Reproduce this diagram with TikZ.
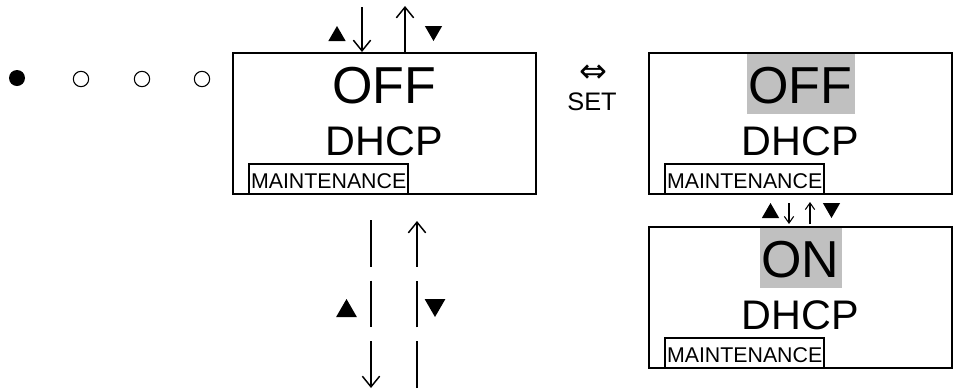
\documentclass[tikz,border=0pt]{standalone}
\usepackage{fontspec}
\setmainfont{Liberation Sans}
\newfontfamily\dejavu{DejaVu Sans}
\usetikzlibrary{arrows.meta,shapes.geometric}
\definecolor{hlgray}{RGB}{192,192,192}

\begin{document}
\begin{tikzpicture}[x=0.75pt, y=-0.75pt,
  panel/.style={draw, line width=1.5pt, minimum width=227.25pt, minimum height=105.75pt, inner sep=0pt},
  val/.style={anchor=base, font=\fontsize{39}{39}\selectfont, inner xsep=1.5pt, inner ysep=0pt, text height=37pt, text depth=8.2pt},
  hl/.style={val, fill=hlgray},
  dhcp/.style={anchor=base, font=\fontsize{31}{31}\selectfont, inner sep=0pt},
  mnt/.style={draw, line width=1.5pt, anchor=base west, font=\fontsize{16}{16}\selectfont, inner xsep=1.5pt, inner ysep=0pt, text height=18pt, text depth=4.5pt},
  odot/.style={circle, draw, line width=0.8pt, minimum size=11.5pt, inner sep=0pt},
  tri/.style={regular polygon, regular polygon sides=3, fill, inner sep=0pt, minimum size=#1},
  tri/.default=15pt,
  arr/.style={-{Straight Barb[length=8pt,width=13pt]}, line width=1.1pt},
  sarr/.style={-{Straight Barb[length=5pt,width=7pt]}, line width=0.8pt}]
  \useasboundingbox (0,0) rectangle (959,390);
  % position dots
  \node[circle, fill, minimum size=12pt, inner sep=0pt] (d0) at (17,78) {};
  \foreach \i/\x in {1/81,2/142,3/202}
    \node[odot] (d\i) at (\x,79) {};
  % displays
  \node[panel] (b1) at (384.5,123.5) {};
  \node[panel] (b2) at (800.5,123.5) {};
  \node[panel] (b3) at (800.5,297.5) {};
  \node[val] (v1) at (384.5,103) {OFF};
  \node[dhcp] (h1) at (384.5,155) {DHCP};
  \node[mnt] (m1) at (248,188) {MAINTENANCE};
  \node[hl] (v2) at (800.5,103) {OFF};
  \node[dhcp] (h2) at (800.5,155) {DHCP};
  \node[mnt] (m2) at (664,188) {MAINTENANCE};
  \node[hl] (v3) at (800.5,277) {ON};
  \node[dhcp] (h3) at (800.5,329) {DHCP};
  \node[mnt] (m3) at (664,362) {MAINTENANCE};
  % keys above the first display
  \node[tri] (tu1) at (337,36) {};
  \node[tri, shape border rotate=180] (td1) at (433.5,31) {};
  \coordinate (a1) at (362,7);
  \coordinate (a2) at (405,6);
  \draw[arr] (a1) -- (a1 |- b1.north);
  \draw[arr] (a2 |- b1.north) -- (a2);
  % set key
  \node[font=\dejavu\fontsize{25}{25}\selectfont] (lr) at (593,74) {⇔};
  \node[anchor=base, font=\fontsize{19}{19}\selectfont] (set) at (592,110) {SET};
  % keys below the first display
  \coordinate (l1) at (371,220);
  \coordinate (l2) at (371,388);
  \coordinate (r1) at (417,388);
  \coordinate (r2) at (417,221);
  \draw[arr, dash pattern=on 35pt off 10.5pt] (l1) -- (l2);
  \draw[arr, dash pattern=on 35pt off 10.5pt] (r1) -- (r2);
  \node[tri=18pt] (tu2) at (346.5,311) {};
  \node[tri=18pt, shape border rotate=180] (td2) at (435,305) {};
  % keys between the value displays
  \node[tri] (tu3) at (770.5,213) {};
  \node[tri, shape border rotate=180] (td3) at (831.5,208) {};
  \coordinate (s1) at (789,203);
  \coordinate (s2) at (810,202);
  \draw[sarr, shorten >=1.5pt] (s1) -- (s1 |- b3.north);
  \draw[sarr, shorten <=1.5pt] (s2 |- b3.north) -- (s2);
\end{tikzpicture}
\end{document}
